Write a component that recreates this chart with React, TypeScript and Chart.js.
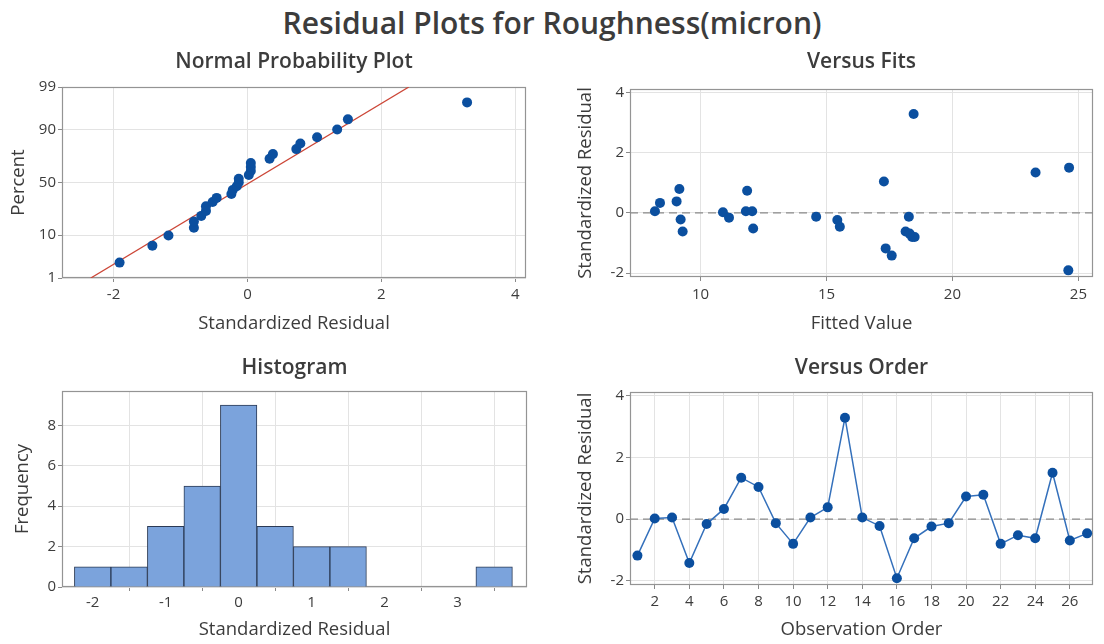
import React, { useEffect, useRef } from 'react';
import { Chart, registerables } from 'chart.js';

Chart.register(...registerables);

// ---------------- data ----------------
const mainTitle = 'Residual Plots for Roughness(micron)';
const panelTitles = ['Normal Probability Plot', 'Versus Fits', 'Histogram', 'Versus Order'];
const axisTitles = {
  residual: 'Standardized Residual',
  percent: 'Percent',
  fitted: 'Fitted Value',
  frequency: 'Frequency',
  order: 'Observation Order',
};

const observationOrder = [1, 2, 3, 4, 5, 6, 7, 8, 9, 10, 11, 12, 13, 14, 15, 16, 17, 18, 19, 20, 21, 22, 23, 24, 25, 26, 27];
const standardizedResiduals = [-1.18, 0.02, 0.05, -1.42, -0.16, 0.33, 1.34, 1.04, -0.13, -0.8, 0.05, 0.38, 3.28, 0.05, -0.22, -1.91, -0.62, -0.24, -0.13, 0.73, 0.79, -0.8, -0.52, -0.62, 1.5, -0.69, -0.46];
const fittedValues = [17.35, 10.89, 8.19, 17.59, 11.13, 8.39, 23.3, 17.28, 14.59, 18.4, 11.8, 9.05, 18.46, 12.05, 9.21, 24.6, 9.29, 15.43, 18.27, 11.85, 9.16, 18.5, 12.09, 18.14, 24.63, 18.3, 15.53];

// normal probability plot (sorted residuals and their plotted percents)
const sortedResiduals = [-1.91, -1.42, -1.18, -0.8, -0.8, -0.69, -0.62, -0.62, -0.52, -0.46, -0.24, -0.22, -0.16, -0.13, -0.13, 0.02, 0.05, 0.05, 0.05, 0.33, 0.38, 0.73, 0.79, 1.04, 1.34, 1.5, 3.28];
const probabilityPercents = [2.55, 6.2, 9.85, 13.5, 17.15, 20.8, 24.45, 28.1, 31.75, 35.4, 39.05, 42.7, 46.35, 50.0, 53.65, 57.3, 60.95, 64.6, 68.25, 71.9, 75.55, 79.2, 82.85, 86.5, 90.15, 93.8, 97.45];
const fitLineResiduals = [-2.34, 2.41];
const fitLinePercents = [1, 99];

// histogram
const binCenters = [-2, -1.5, -1, -0.5, 0, 0.5, 1, 1.5, 2, 2.5, 3, 3.5];
const binCounts = [1, 1, 3, 5, 9, 3, 2, 2, 0, 0, 0, 1];

// tick labels
const probXTicks = [-2, 0, 2, 4];
const probPercentTicks = [1, 10, 50, 90, 99];
const fitsXTicks = [10, 15, 20, 25];
const residualTicks = [-2, 0, 2, 4];
const histXTicks = [-2, -1, 0, 1, 2, 3];
const histYTicks = [0, 2, 4, 6, 8];
const orderXTicks = [2, 4, 6, 8, 10, 12, 14, 16, 18, 20, 22, 24, 26];
const referenceResidual = 0;

// axis ranges
const probXRange = [-2.77, 4.16];
const probPercentRange = [1, 99];
const fitsXRange = [7.2, 25.58];
const residualRange = [-2.13, 4.11];
const histXRange = [-2.42, 3.95];
const histYRange = [0, 9.7];
const orderXRange = [0.57, 27.34];

// ---------------- styles ----------------
const FONT = "'Open Sans', 'Noto Sans', sans-serif";
const TEXT = '#3c3c3c';
const GRID = '#e3e3e3';
const FRAME = '#949494';
const TICK_MARK = '#8a8a8a';
const POINT = '#0b4f9f';
const LINE = '#3470bb';
const FIT_RED = '#cc4637';
const REF = '#8a8a8a';
const BAR_FILL = '#7ba3dc';
const BAR_EDGE = '#2b3a55';

const MAIN_SIZE = 30;
const TITLE_SIZE = 21;
const AXIS_TITLE_SIZE = 18.5;
const TICK_SIZE = 15;
const TICK_LEN = 4;
const Y_TICK_PAD = 2;
const POINT_RADIUS = 5;

function probit(p: number): number {
  const a = [-3.969683028665376e1, 2.209460984245205e2, -2.759285104469687e2, 1.38357751867269e2, -3.066479806614716e1, 2.506628277459239];
  const b = [-5.447609879822406e1, 1.615858368580409e2, -1.556989798598866e2, 6.680131188771972e1, -1.328068155288572e1];
  const c = [-7.784894002430293e-3, -3.223964580411365e-1, -2.400758277161838, -2.549732539343734, 4.374664141464968, 2.938163982869271];
  const d = [7.784695709041462e-3, 3.224671290700398e-1, 2.445134137142996, 3.754408661907416];
  const pl = 0.02425;
  if (p < pl) {
    const q = Math.sqrt(-2 * Math.log(p));
    return (((((c[0] * q + c[1]) * q + c[2]) * q + c[3]) * q + c[4]) * q + c[5]) / ((((d[0] * q + d[1]) * q + d[2]) * q + d[3]) * q + 1);
  }
  if (p <= 1 - pl) {
    const q = p - 0.5;
    const r = q * q;
    return ((((((a[0] * r + a[1]) * r + a[2]) * r + a[3]) * r + a[4]) * r + a[5]) * q) / (((((b[0] * r + b[1]) * r + b[2]) * r + b[3]) * r + b[4]) * r + 1);
  }
  const q = Math.sqrt(-2 * Math.log(1 - p));
  return -(((((c[0] * q + c[1]) * q + c[2]) * q + c[3]) * q + c[4]) * q + c[5]) / ((((d[0] * q + d[1]) * q + d[2]) * q + d[3]) * q + 1);
}

type Spec = { L: number; T: number; R: number; B: number; titleY: number; xTickY: number; xTitleY: number; yTitleX: number };

const specs: Spec[] = [
  { L: 62, T: 87, R: 527, B: 278, titleY: 62, xTickY: 295, xTitleY: 324, yTitleX: 19 },
  { L: 630, T: 89, R: 1094, B: 277, titleY: 62, xTickY: 295, xTitleY: 324, yTitleX: 586 },
  { L: 62, T: 391, R: 527, B: 587, titleY: 368, xTickY: 603, xTitleY: 630, yTitleX: 23 },
  { L: 630, T: 392, R: 1094, B: 585, titleY: 368, xTickY: 602, xTitleY: 630, yTitleX: 586 },
];

function geometry(s: Spec) {
  const titleLH = TITLE_SIZE * 1.2;
  const axisLH = AXIS_TITLE_SIZE * 1.2;
  const cx = Math.round(s.yTitleX - axisLH / 2);
  const titlePadTop = 3;
  const cy = Math.round(s.titleY - titleLH / 2 - titlePadTop);
  const titlePadBottom = s.T - cy - titlePadTop - titleLH;
  const yAxisWidth = s.L - cx;
  const axisBottom = s.xTitleY + axisLH / 2;
  const xAxisHeight = axisBottom - s.B;
  const padR = 4;
  const width = s.R + padR - cx;
  const height = Math.ceil(axisBottom + 3 - cy);
  const padBottom = cy + height - axisBottom;
  const xTickPad = s.xTickY - s.B - TICK_LEN - (TICK_SIZE * 1.2) / 2;
  return { cx, cy, width, height, titlePadTop, titlePadBottom, yAxisWidth, xAxisHeight, padR, padBottom, xTickPad };
}

const geos = specs.map(geometry);

const framePlugin = {
  id: 'frame',
  beforeDatasetsDraw(chart: any) {
    const { ctx, chartArea: a } = chart;
    ctx.save();
    ctx.strokeStyle = FRAME;
    ctx.lineWidth = 1.2;
    ctx.strokeRect(Math.round(a.left) + 0.5, Math.round(a.top) + 0.5, Math.round(a.width) - 1, Math.round(a.height) - 1);
    ctx.restore();
  },
};

function xAxis(g: any, range: number[], ticks: number[], title: string) {
  return {
    type: 'linear',
    position: 'bottom',
    min: range[0],
    max: range[1],
    afterBuildTicks: (sc: any) => {
      sc.ticks = ticks.map((v) => ({ value: v }));
    },
    afterFit: (sc: any) => {
      sc.height = g.xAxisHeight;
    },
    grid: { color: GRID, tickColor: TICK_MARK, tickLength: TICK_LEN, drawTicks: true, lineWidth: 1 },
    border: { display: false },
    ticks: {
      color: TEXT,
      font: { family: FONT, size: TICK_SIZE },
      padding: g.xTickPad,
      maxRotation: 0,
      autoSkip: false,
      callback: (v: any) => String(v),
    },
    title: { display: true, text: title, color: TEXT, font: { family: FONT, size: AXIS_TITLE_SIZE }, padding: 0 },
  };
}

function yAxis(g: any, range: number[], ticks: number[], labels: (number | string)[], title: string) {
  return {
    type: 'linear',
    position: 'left',
    min: range[0],
    max: range[1],
    afterBuildTicks: (sc: any) => {
      sc.ticks = ticks.map((v) => ({ value: v }));
    },
    afterFit: (sc: any) => {
      sc.width = g.yAxisWidth;
    },
    grid: { color: GRID, tickColor: TICK_MARK, tickLength: TICK_LEN, drawTicks: true, lineWidth: 1 },
    border: { display: false },
    ticks: {
      color: TEXT,
      font: { family: FONT, size: TICK_SIZE },
      padding: Y_TICK_PAD,
      autoSkip: false,
      callback: (_v: any, i: number) => String(labels[i]),
    },
    title: { display: true, text: title, color: TEXT, font: { family: FONT, size: AXIS_TITLE_SIZE }, padding: 0 },
  };
}

function baseOptions(g: any, title: string) {
  return {
    responsive: false,
    animation: false,
    layout: { padding: { left: 0, top: 0, right: g.padR, bottom: g.padBottom } },
    plugins: {
      legend: { display: false },
      tooltip: { enabled: false },
      title: {
        display: true,
        text: title,
        fullSize: false,
        color: TEXT,
        font: { family: FONT, size: TITLE_SIZE, weight: '600' },
        padding: { top: g.titlePadTop, bottom: g.titlePadBottom },
      },
    },
  };
}

function refLine(range: number[]) {
  return {
    type: 'line',
    data: [
      { x: range[0], y: referenceResidual },
      { x: range[1], y: referenceResidual },
    ],
    borderColor: REF,
    borderWidth: 1.2,
    borderDash: [8, 5],
    pointRadius: 0,
    fill: false,
  };
}

function makeConfigs(): any[] {
  const [g0, g1, g2, g3] = geos;
  const probY = probPercentTicks.map((p) => probit(p / 100));
  const probYRange = probPercentRange.map((p) => probit(p / 100));

  const normal = {
    type: 'scatter',
    data: {
      datasets: [
        {
          data: sortedResiduals.map((r, i) => ({ x: r, y: probit(probabilityPercents[i] / 100) })),
          backgroundColor: POINT,
          borderColor: POINT,
          pointRadius: POINT_RADIUS,
          borderWidth: 0,
        },
        {
          type: 'line',
          data: fitLineResiduals.map((r, i) => ({ x: r, y: probit(fitLinePercents[i] / 100) })),
          borderColor: FIT_RED,
          borderWidth: 1.3,
          pointRadius: 0,
          fill: false,
        },
      ],
    },
    options: {
      ...baseOptions(g0, panelTitles[0]),
      scales: {
        x: xAxis(g0, probXRange, probXTicks, axisTitles.residual),
        y: yAxis(g0, probYRange, probY, probPercentTicks, axisTitles.percent),
      },
    },
    plugins: [framePlugin],
  };

  const fits = {
    type: 'scatter',
    data: {
      datasets: [
        {
          data: fittedValues.map((f, i) => ({ x: f, y: standardizedResiduals[i] })),
          backgroundColor: POINT,
          borderColor: POINT,
          pointRadius: POINT_RADIUS,
          borderWidth: 0,
        },
        refLine(fitsXRange),
      ],
    },
    options: {
      ...baseOptions(g1, panelTitles[1]),
      scales: {
        x: xAxis(g1, fitsXRange, fitsXTicks, axisTitles.fitted),
        y: yAxis(g1, residualRange, residualTicks, residualTicks, axisTitles.residual),
      },
    },
    plugins: [framePlugin],
  };

  const hist = {
    type: 'bar',
    data: {
      datasets: [
        {
          data: binCenters.map((c, i) => ({ x: c, y: binCounts[i] })),
          backgroundColor: BAR_FILL,
          borderColor: BAR_EDGE,
          borderWidth: 1,
          barPercentage: 1,
          categoryPercentage: 1,
        },
      ],
    },
    options: {
      ...baseOptions(g2, panelTitles[2]),
      scales: {
        x: { ...xAxis(g2, histXRange, histXTicks, axisTitles.residual), offset: false },
        y: yAxis(g2, histYRange, histYTicks, histYTicks, axisTitles.frequency),
      },
    },
    plugins: [framePlugin],
  };

  const order = {
    type: 'scatter',
    data: {
      datasets: [
        {
          type: 'line',
          data: observationOrder.map((o, i) => ({ x: o, y: standardizedResiduals[i] })),
          borderColor: LINE,
          borderWidth: 1.5,
          pointRadius: POINT_RADIUS,
          pointBackgroundColor: POINT,
          pointBorderColor: POINT,
          pointBorderWidth: 0,
          fill: false,
          tension: 0,
        },
        refLine(orderXRange),
      ],
    },
    options: {
      ...baseOptions(g3, panelTitles[3]),
      scales: {
        x: xAxis(g3, orderXRange, orderXTicks, axisTitles.order),
        y: yAxis(g3, residualRange, residualTicks, residualTicks, axisTitles.residual),
      },
    },
    plugins: [framePlugin],
  };

  return [normal, fits, hist, order];
}

export default function App() {
  const refs = [useRef<HTMLCanvasElement>(null), useRef<HTMLCanvasElement>(null), useRef<HTMLCanvasElement>(null), useRef<HTMLCanvasElement>(null)];

  useEffect(() => {
    const configs = makeConfigs();
    const charts = configs.map((cfg, i) => new Chart(refs[i].current as HTMLCanvasElement, cfg));
    return () => charts.forEach((c) => c.destroy());
  }, []);

  return (
    <div
      style={{
        position: 'absolute',
        left: 0,
        top: 0,
        width: 1104,
        height: 644,
        overflow: 'hidden',
        background: '#ffffff',
      }}
    >
      <div
        style={{
          position: 'absolute',
          left: 0,
          top: 1,
          width: 1104,
          height: 44,
          lineHeight: '44px',
          textAlign: 'center',
          fontFamily: FONT,
          fontWeight: 600,
          fontSize: MAIN_SIZE,
          color: TEXT,
          whiteSpace: 'nowrap',
        }}
      >
        {mainTitle}
      </div>
      {geos.map((g, i) => (
        <canvas
          key={i}
          ref={refs[i]}
          width={g.width}
          height={g.height}
          style={{ position: 'absolute', left: g.cx, top: g.cy, width: g.width, height: g.height }}
        />
      ))}
    </div>
  );
}
